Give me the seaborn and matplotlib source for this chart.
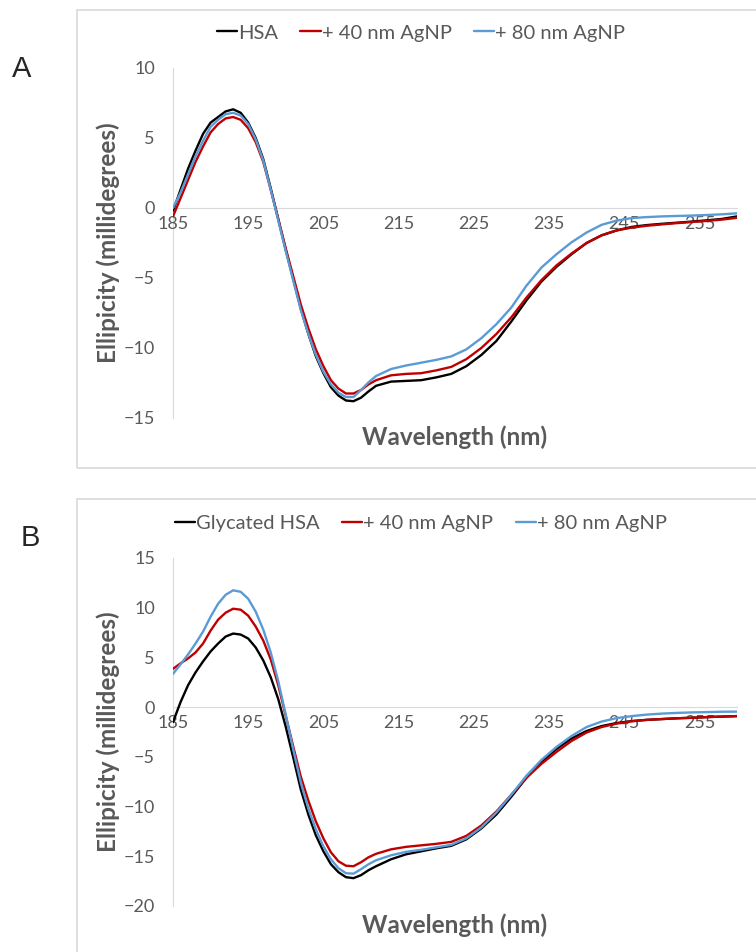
import pandas as pd
import matplotlib.pyplot as plt
import seaborn as sns
from matplotlib.patches import Rectangle

# wavelength grid (nm)
wl = [185, 186, 187, 188, 189, 190, 191, 192, 193, 194, 195, 196, 197, 198, 199,
      200, 201, 202, 203, 204, 205, 206, 207, 208, 209, 210, 211, 212, 214, 216,
      218, 220, 222, 224, 226, 228, 230, 232, 234, 236, 238, 240, 242, 244, 246,
      248, 250, 252, 254, 256, 258, 260]

# Panel A - native HSA
a_hsa = [-0.2, 1.3, 2.8, 4.1, 5.3, 6.1, 6.5, 6.9, 7.05, 6.8, 6.1, 5.0, 3.5, 1.4, -0.8,
         -3.0, -5.1, -7.2, -9.0, -10.6, -11.8, -12.8, -13.4, -13.75, -13.8, -13.55, -13.1, -12.7, -12.4, -12.35,
         -12.3, -12.1, -11.85, -11.3, -10.5, -9.5, -8.1, -6.6, -5.25, -4.2, -3.3, -2.5, -1.95, -1.6, -1.35,
         -1.22, -1.13, -1.05, -0.97, -0.88, -0.78, -0.6]
a_40 = [-0.6, 0.7, 2.0, 3.3, 4.4, 5.4, 6.0, 6.4, 6.5, 6.3, 5.7, 4.7, 3.3, 1.3, -0.8,
        -2.9, -4.9, -6.9, -8.6, -10.1, -11.3, -12.3, -12.9, -13.25, -13.25, -13.0, -12.6, -12.3, -11.95, -11.85,
        -11.8, -11.6, -11.35, -10.8, -10.0, -9.0, -7.8, -6.4, -5.15, -4.1, -3.25, -2.5, -1.95, -1.6, -1.4,
        -1.27, -1.17, -1.08, -1.0, -0.92, -0.83, -0.7]
a_80 = [0.0, 1.1, 2.4, 3.7, 4.8, 5.8, 6.3, 6.7, 6.8, 6.6, 6.0, 4.9, 3.4, 1.3, -0.9,
        -3.1, -5.2, -7.3, -9.0, -10.5, -11.7, -12.6, -13.2, -13.5, -13.5, -13.0, -12.45, -12.0, -11.5, -11.25,
        -11.05, -10.85, -10.6, -10.1, -9.3, -8.3, -7.1, -5.55, -4.25, -3.3, -2.45, -1.75, -1.2, -0.9, -0.72,
        -0.65, -0.6, -0.57, -0.54, -0.5, -0.45, -0.38]

# Panel B - glycated HSA
b_hsa = [-1.5, 0.5, 2.2, 3.5, 4.6, 5.6, 6.4, 7.1, 7.4, 7.3, 6.9, 6.0, 4.7, 3.0, 0.8,
         -2.0, -5.1, -8.3, -10.8, -12.9, -14.5, -15.8, -16.6, -17.1, -17.2, -16.9, -16.4, -16.0, -15.3, -14.8,
         -14.5, -14.2, -13.95, -13.3, -12.2, -10.8, -9.0, -7.1, -5.5, -4.2, -3.15, -2.4, -1.9, -1.6, -1.4,
         -1.28, -1.2, -1.12, -1.07, -1.0, -0.95, -0.9]
b_40 = [3.85, 4.4, 4.9, 5.5, 6.4, 7.7, 8.8, 9.5, 9.9, 9.8, 9.2, 8.1, 6.7, 4.8, 2.2,
        -0.9, -4.0, -7.0, -9.4, -11.5, -13.2, -14.6, -15.5, -15.95, -16.0, -15.6, -15.1, -14.75, -14.3, -14.05,
        -13.9, -13.75, -13.55, -12.95, -11.9, -10.5, -8.8, -7.1, -5.7, -4.5, -3.4, -2.55, -2.0, -1.65, -1.42,
        -1.28, -1.2, -1.12, -1.07, -1.0, -0.95, -0.9]
b_80 = [3.35, 4.3, 5.3, 6.4, 7.6, 9.1, 10.4, 11.3, 11.75, 11.6, 10.9, 9.6, 7.8, 5.5, 2.6,
        -0.8, -4.3, -7.6, -10.2, -12.3, -14.0, -15.3, -16.2, -16.7, -16.75, -16.3, -15.8, -15.4, -14.9, -14.55,
        -14.35, -14.1, -13.85, -13.2, -12.1, -10.6, -8.8, -6.9, -5.3, -4.0, -2.9, -2.0, -1.45, -1.1, -0.9,
        -0.75, -0.65, -0.58, -0.53, -0.5, -0.46, -0.45]

xticks = [185, 195, 205, 215, 225, 235, 245, 255]

colors = ['#000000', '#C00000', '#5B9BD5']
gray = '#595959'
light = '#D9D9D9'

sns.set_style("white")
plt.rcParams['font.family'] = ['Lato', 'DejaVu Sans']

W, H = 756, 952
fig = plt.figure(figsize=(W / 100, H / 100), dpi=100)


def fx(px):
    return px / W


def fy(py):
    return 1 - py / H


def panel(box_top, box_bot, ax_top, ax_bot, names, series, ylim, yticks, legend_y, letter, letter_xy):
    # chart frame
    fig.add_artist(Rectangle((fx(77), fy(box_bot)), fx(765) - fx(77), fy(box_top) - fy(box_bot),
                             transform=fig.transFigure, fill=False, edgecolor=light, lw=1.2))
    ax = fig.add_axes([fx(173), fy(ax_bot), fx(737) - fx(173), fy(ax_top) - fy(ax_bot)])
    df = pd.concat([pd.DataFrame({'wl': wl, 'val': s, 'sample': n}) for n, s in zip(names, series)])
    sns.lineplot(data=df, x='wl', y='val', hue='sample', hue_order=names,
                 palette=dict(zip(names, colors)), linewidth=1.7, sort=False,
                 legend=False, ax=ax)
    for ln in ax.get_lines():
        ln.set_solid_joinstyle('round')
    ax.set_xlim(185, 260)
    ax.set_ylim(*ylim)
    ax.set_xticks(xticks)
    ax.set_yticks(yticks)
    ax.spines['top'].set_visible(False)
    ax.spines['right'].set_visible(False)
    ax.spines['left'].set_color(light)
    ax.spines['bottom'].set_color(light)
    ax.spines['bottom'].set_position(('data', 0))
    ax.spines['left'].set_zorder(0)
    ax.spines['bottom'].set_zorder(0)
    ax.tick_params(axis='x', length=0, pad=6, labelsize=13, labelcolor=gray)
    ax.tick_params(axis='y', length=0, pad=13, labelsize=13, labelcolor=gray)
    ax.set_xlabel('')
    ax.set_ylabel('')
    fig.text(fx(455), fy(ax_bot + 19), 'Wavelength (nm)', ha='center', va='center',
             fontsize=17.5, fontweight='bold', color=gray)
    fig.text(fx(108), fy((ax_top + ax_bot) / 2), 'Ellipicity (millidegrees)', ha='center',
             va='center', rotation=90, fontsize=17.5, fontweight='bold', color=gray)
    fig.legend(handles=ax.get_lines()[:3], labels=names, loc='center',
               bbox_to_anchor=(fx(421), fy(legend_y)), ncol=3, frameon=False,
               fontsize=14.5, handlelength=1.0, handletextpad=0.05, columnspacing=1.1,
               labelcolor=gray)
    fig.text(fx(letter_xy[0]), fy(letter_xy[1]), letter, ha='center', va='center',
             fontsize=21, family='Liberation Sans')
    return ax


panel(10, 468, 68, 418, ['HSA', '+ 40 nm AgNP', '+ 80 nm AgNP'],
      [a_hsa, a_40, a_80], (-15, 10), [-15, -10, -5, 0, 5, 10], 33, 'A', (22, 69))
panel(499, 960, 558, 906, ['Glycated HSA', '+ 40 nm AgNP', '+ 80 nm AgNP'],
      [b_hsa, b_40, b_80], (-20, 15), [-20, -15, -10, -5, 0, 5, 10, 15], 523, 'B', (30, 538))

fig.savefig('out.png', dpi=100)
